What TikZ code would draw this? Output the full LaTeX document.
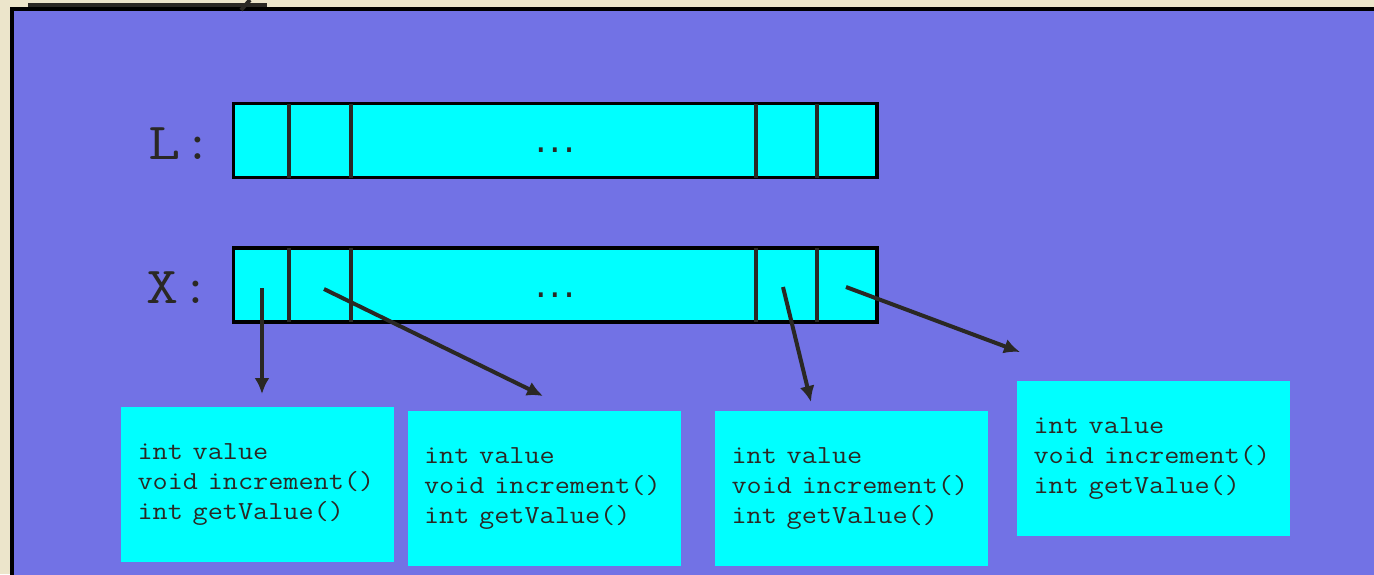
\documentclass[tikz,border=0pt]{standalone}
\usepackage{fontspec}
\usetikzlibrary{arrows.meta}
\definecolor{beige}{RGB}{236,229,203}
\definecolor{panel}{RGB}{114,114,229}
\definecolor{cellcyan}{RGB}{0,255,255}
\definecolor{ink}{RGB}{42,40,36}
\newfontfamily\dotsfamily{DejaVu Sans Mono}
\newcommand\codefont{\ttfamily\fontsize{26pt}{29.6pt}\selectfont}
\newcommand\lblfont{\ttfamily\fontsize{52pt}{52pt}\selectfont}
\newcommand\ellfont{\dotsfamily\bfseries\fontsize{26pt}{26pt}\selectfont}
\newcommand\wideline[1]{\scalebox{1.13}[1]{#1}}
\begin{document}
\begin{tikzpicture}[x=1pt,y=-1pt,
  arr/.style={draw=black, fill=cellcyan, line width=3.8pt, inner sep=0pt, outer sep=0pt,
              minimum width=643.5pt, minimum height=74pt},
  div/.style={ink, line width=4pt},
  cls/.style={fill=cellcyan, inner sep=0pt, minimum width=273pt, minimum height=155pt,
              align=left, text width=240pt, font=\codefont, text=ink},
  ptr/.style={ink, line width=4pt, -{Latex[length=16pt,width=15pt]}},
  lbl/.style={font=\lblfont, text=ink, anchor=base west, inner sep=0pt},
  ell/.style={font=\ellfont, text=ink, anchor=base, inner sep=0pt}]
\useasboundingbox (0,0) rectangle (1374,574);
\fill[beige] (0,0) rectangle (1374,574);
\draw[black, line width=4pt, fill=panel] (12,9) rectangle (1400,600);
\fill[ink] (28,3) rectangle (267,7);
\draw[ink, line width=4pt] (241,10) -- (250,0);

% arrays
\node[arr] (L) at (555.25,140.5) {};
\node[arr] (X) at (555.25,285) {};
\foreach \x in {289,350.5,755.5,817} {
  \draw[div] (\x,103.5) -- (\x,177.5);
  \draw[div] (\x,248) -- (\x,322);
}
\node[ell] (Ldots) at (555,152) {\scalebox{0.9}[1]{...}};
\node[ell] (Xdots) at (555,297) {\scalebox{0.9}[1]{...}};

% labels
\node[lbl] (Llbl) at (148,159) {\scalebox{1.2}[1]{L}\hspace{4pt}:};
\node[lbl] (Xlbl) at (146,303) {\scalebox{1.2}[1]{X}\hspace{4pt}:};

% objects
\node[cls] (b1) at (257.5,484.5) {\wideline{int value}\\\wideline{void increment()}\\\wideline{int getValue()}};
\node[cls] (b2) at (544,488.5) {\wideline{int value}\\\wideline{void increment()}\\\wideline{int getValue()}};
\node[cls] (b3) at (851.5,488.5) {\wideline{int value}\\\wideline{void increment()}\\\wideline{int getValue()}};
\node[cls] (b4) at (1153.5,458.5) {\wideline{int value}\\\wideline{void increment()}\\\wideline{int getValue()}};

% pointers
\coordinate (p1s) at (262,288); \coordinate (p1e) at (262,394);
\coordinate (p2s) at (324,289); \coordinate (p2e) at (543,396);
\coordinate (p3s) at (783,287); \coordinate (p3e) at (811,402);
\coordinate (p4s) at (846,287); \coordinate (p4e) at (1020,352);
\draw[ptr] (p1s) -- (p1e);
\draw[ptr] (p2s) -- (p2e);
\draw[ptr] (p3s) -- (p3e);
\draw[ptr] (p4s) -- (p4e);
\end{tikzpicture}
\end{document}
